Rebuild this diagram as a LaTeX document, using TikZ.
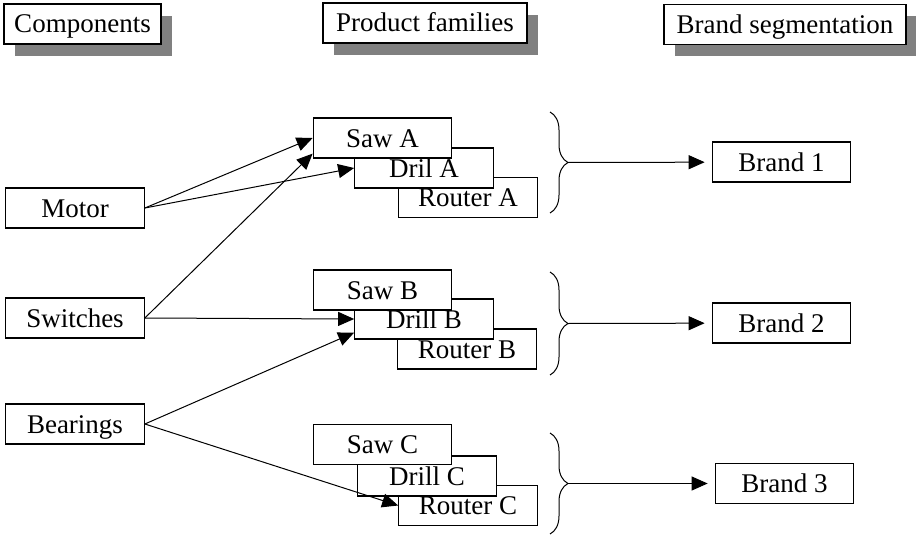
\documentclass[tikz,border=0pt]{standalone}
\usepackage{fontspec}
\setmainfont{Liberation Serif}
\usetikzlibrary{arrows.meta,shadows,decorations.pathreplacing}

\begin{document}
\begin{tikzpicture}[x=1pt,y=-1pt,
  box/.style={draw, fill=white, line width=1.2pt, inner sep=0pt, minimum height=40pt, minimum width=138.5pt, text height=18pt, text depth=0pt, font=\fontsize{27}{32}\selectfont},
  head/.style={box, drop shadow={shadow xshift=11pt, shadow yshift=-12pt, fill=black!50, opacity=1}},
  link/.style={-{Triangle[length=16pt,width=14pt]}, line width=1pt},
  curly/.style={decorate, decoration={brace, amplitude=18pt}, line width=1pt}]
\useasboundingbox (0,0) rectangle (916,535);

\node[head, minimum width=157pt] (comp) at (82.5,24) {Components};
\node[head, minimum width=204pt] (fam) at (425,23) {Product families};
\node[head, minimum width=242pt] (seg) at (785,24.5) {Brand segmentation};

\node[box] (motor) at (75,208) {Motor};
\node[box] (switch) at (75,318) {Switches};
\node[box] (bear) at (75,424) {Bearings};

\node[box] (routA) at (468,197.5) {Router A};
\node[box] (drilA) at (424,168) {Dril A};
\node[box] (sawA) at (382.5,138) {Saw A};

\node[box] (routB) at (467,349) {Router B};
\node[box] (drilB) at (424,319) {Drill B};
\node[box] (sawB) at (382.5,290) {Saw B};

\node[box] (routC) at (468,505.5) {Router C};
\node[box] (drilC) at (427,476) {Drill C};
\node[box] (sawC) at (382.5,444.5) {Saw C};

\node[box] (brand1) at (781.5,162) {Brand 1};
\node[box] (brand2) at (781.5,323) {Brand 2};
\node[box] (brand3) at (784.5,483.5) {Brand 3};

\draw[curly] (550,112) -- (550,213);
\draw[curly] (550,272) -- (550,375);
\draw[curly] (550,433) -- (550,534);
\coordinate (tip1) at (568,162.5);
\coordinate (tip2) at (568,323.5);
\coordinate (tip3) at (568,483.5);

\draw[link] (motor.east) -- (sawA.west);
\draw[link] (motor.east) -- (drilA.west);
\draw[link] (switch.east) -- ([yshift=5pt]sawA.south west);
\draw[link] (switch.east) -- (drilB.west);
\draw[link] (bear.east) -- ([yshift=7pt]drilB.south west);
\draw[link] (bear.east) -- (routC.west);

\draw[link, shorten >=7pt] (tip1) -- (brand1);
\draw[link, shorten >=7pt] (tip2) -- (brand2);
\draw[link, shorten >=7pt] (tip3) -- (brand3);
\end{tikzpicture}
\end{document}
